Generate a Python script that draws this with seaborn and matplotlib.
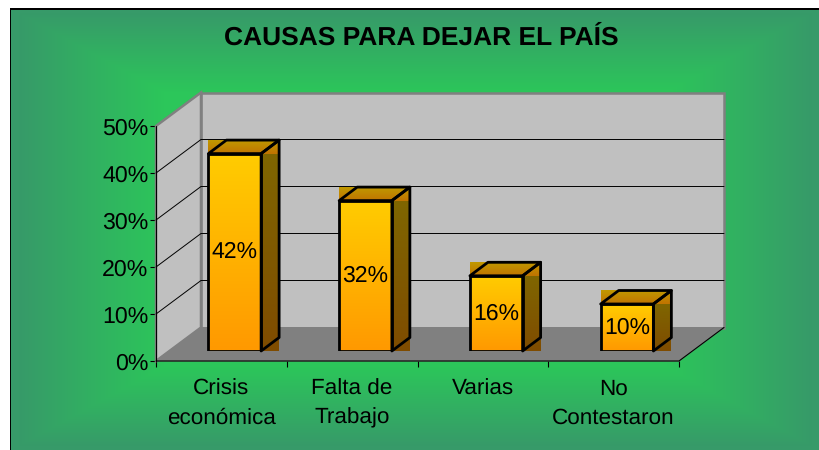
import numpy as np
import matplotlib
matplotlib.use('Agg')
import matplotlib.pyplot as plt
from matplotlib.patches import Polygon
from matplotlib.transforms import IdentityTransform
import seaborn as sns

title = 'CAUSAS PARA DEJAR EL PAÍS'
categories = ['Crisis\neconómica', 'Falta de\nTrabajo', 'Varias', 'No\nContestaron']
values = [0.42, 0.32, 0.16, 0.10]
value_labels = ['42%', '32%', '16%', '10%']
y_ticks = [0, 0.1, 0.2, 0.3, 0.4, 0.5]
y_tick_labels = ['0%', '10%', '20%', '30%', '40%', '50%']

W, H = 819, 450

sns.set_theme(style='white')
plt.rcParams['font.family'] = ['Liberation Sans', 'DejaVu Sans']
plt.rcParams['text.color'] = 'black'
plt.rcParams['text.hinting'] = 'no_hinting'

fig = plt.figure(figsize=(W / 100, H / 100), dpi=100)


def hex_rgb(c):
    return np.array(matplotlib.colors.to_rgb(c))


# background, lit from the centre
bg = fig.add_axes([0, 0, 1, 1])
yy, xx = np.mgrid[0:H, 0:W]
t = np.maximum(np.abs(xx - 415) / 405, np.abs(yy - 229) / 221)
t = np.clip((t - 0.62) / 0.36, 0, 1)[..., None]
pic = hex_rgb('#2cc65a') * (1 - t) + hex_rgb('#379a69') * t
pic[:8, :] = 1
pic[:, :10] = 1
pic[8:10, 10:] = 0
pic[8:, 10:11] = 0
bg.imshow(pic, extent=(0, W, H, 0), aspect='auto', interpolation='nearest')
bg.axis('off')

# front plane of the box, holds the ticks
ax = fig.add_axes([156 / W, (H - 361) / H, 523 / W, 235 / H])
ax.patch.set_alpha(0)
ax.set_xlim(-0.5, 3.5)
ax.set_ylim(0, 0.5)
for s in ax.spines.values():
    s.set_visible(False)

DX, DY = 45, 33.5


def px(x, y):
    return ax.transData.transform((x, y))


x0, x1 = ax.get_xlim()
y0, y1 = ax.get_ylim()
a, b, c, d = px(x0, y0), px(x1, y0), px(x1, y1), px(x0, y1)
off = np.array([DX, DY])
idt = IdentityTransform()


def poly(pts, fc, ec, lw, z):
    ax.add_patch(Polygon(pts, closed=True, fc=fc, ec=ec, lw=lw, zorder=z,
                         transform=idt, clip_on=False))


poly([a + off, b + off, c + off, d + off], '#c0c0c0', '#808080', 1.8, 1)
poly([a, a + off, d + off, d], '#c0c0c0', '#808080', 1.8, 1.1)
poly([a, b, b + off, a + off], '#808080', '#808080', 0.7, 1.2)

# gridlines on the two walls
for v in y_ticks[1:-1]:
    p = px(x0, v)
    q = px(x1, v)
    ax.plot([p[0], p[0] + DX, q[0] + DX], [p[1], p[1] + DY, q[1] + DY],
            color='black', lw=0.7, zorder=1.15, transform=idt, clip_on=False)
ax.plot([a[0], b[0], b[0] + DX], [a[1], b[1], b[1] + DY], color='black', lw=0.8,
        zorder=1.3, transform=idt, clip_on=False)
ax.plot([d[0], a[0]], [d[1], a[1]], color='black', lw=0.8, zorder=1.3,
        transform=idt, clip_on=False)

ax.set_yticks(y_ticks)
ax.set_yticklabels(y_tick_labels)
ax.set_xticks([-0.5, 0.5, 1.5, 2.5, 3.5])
ax.set_xticklabels([])
ax.set_xticks(range(len(categories)), categories, minor=True)
ax.tick_params(axis='y', which='major', left=True, length=4.5, width=0.8, color='black',
               labelsize=16.7, labelcolor='black', pad=1)
ax.tick_params(axis='x', which='major', bottom=True, length=4, width=0.8, color='black')
ax.tick_params(axis='x', which='minor', bottom=False, length=0, labelsize=16.2,
               labelcolor='black', pad=12.5)
for lab in ax.get_xticklabels(minor=True):
    lab.set_linespacing(1.55)

# bars stand a little inside the box
BX, BY = 13.4, 10
bar_ax = fig.add_axes([(156 + BX) / W, (H - 361 + BY) / H, 523 / W, 235 / H])
bar_ax.patch.set_alpha(0)
sns.barplot(x=list(range(len(values))), y=values, ax=bar_ax, width=0.403, color='#ffcc00',
            saturation=1, edgecolor='black', linewidth=2, zorder=4)
bar_ax.set_xlim(-0.5, 3.5)
bar_ax.set_ylim(0, 0.5)
bar_ax.axis('off')


def shade(x_a, x_b, y_a, y_b, top, bottom, z):
    g = np.linspace(hex_rgb(bottom), hex_rgb(top), 64)[:, None, :]
    bar_ax.imshow(g, extent=(x_a, x_b, y_a, y_b), origin='lower', aspect='auto',
                  transform=idt, zorder=z, clip_on=False, interpolation='bilinear')


BDX, BDY = 18, 13.5
for p in list(bar_ax.patches):
    (l, bot), (r, top) = bar_ax.transData.transform(
        [(p.get_x(), 0), (p.get_x() + p.get_width(), p.get_height())])
    shade(r, r + BDX, bot - 0.5, top, '#7f6600', '#7f4c00', 1)
    shade(l, r + BDX, top, top + BDY, '#c09900', '#c07300', 1)
    shade(l, r, bot, top, '#ffcc00', '#ff9900', 2)
    p.set_facecolor('none')
    for pts in ([(l, top), (l + BDX, top + BDY), (r + BDX, top + BDY), (r, top)],
                [(r, bot), (r, top), (r + BDX, top + BDY), (r + BDX, bot + BDY)]):
        bar_ax.add_patch(Polygon(pts, closed=True, fc='none', ec='black', lw=2, zorder=3,
                                 transform=idt, clip_on=False, joinstyle='round'))

bar_ax.set_xlim(-0.5, 3.5)
bar_ax.set_ylim(0, 0.5)
bar_ax.bar_label(bar_ax.containers[0], labels=value_labels, label_type='center',
                 fontsize=16.6, color='black', zorder=6)

fig.text(421 / W, 1 - 38 / H, title, ha='center', va='center', fontsize=19,
         fontweight='bold', color='black')

fig.savefig('out.png', dpi=100)
